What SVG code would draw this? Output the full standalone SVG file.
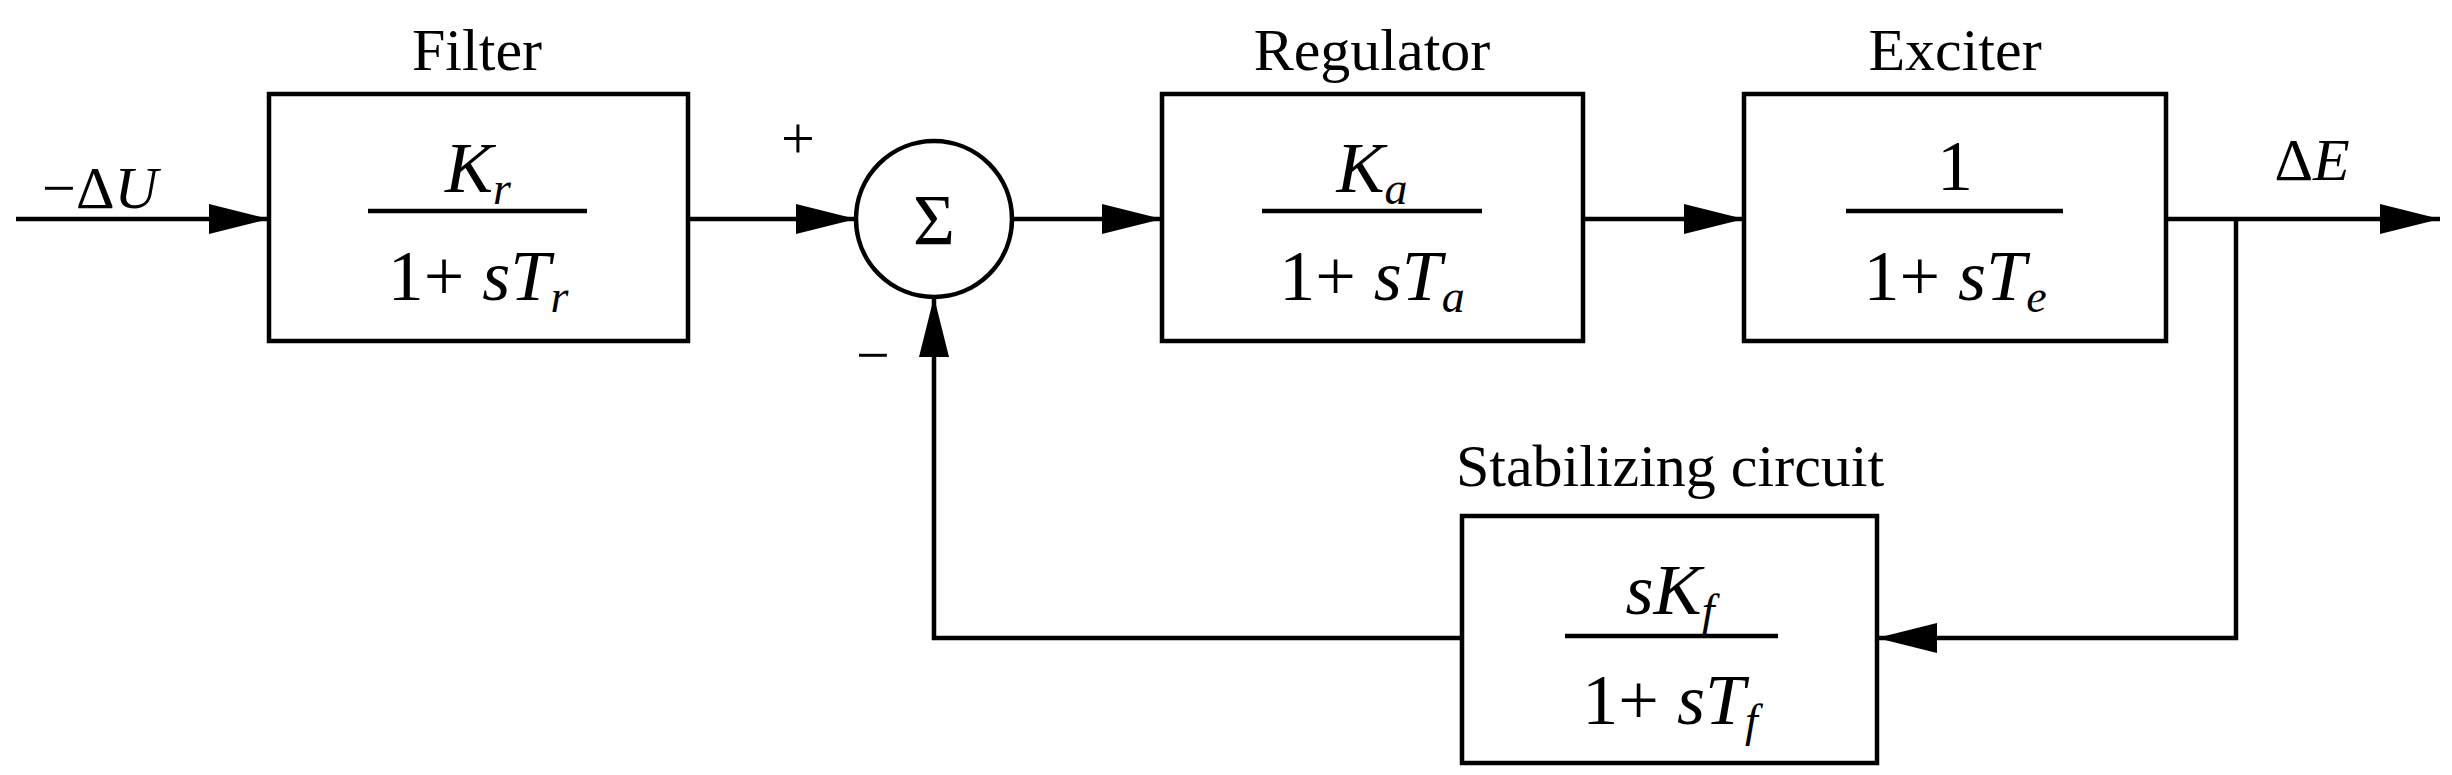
<svg xmlns="http://www.w3.org/2000/svg" width="2452" height="775" viewBox="0 0 2452 775">
<defs>
<marker id="ah" markerWidth="60" markerHeight="30" refX="60" refY="15" orient="auto" markerUnits="userSpaceOnUse"><path d="M0,0 L60,15 L0,30 Z" fill="#000"/></marker>
<style>
.b{fill:#fff;stroke:#000;stroke-width:4.5}
.l{fill:none;stroke:#000;stroke-width:4.5}
.t{font-family:"Liberation Serif",serif;font-size:60px;text-anchor:middle}
.m{font-family:"Liberation Serif",serif;font-size:72px;text-anchor:middle}
.i{font-style:italic}
.s{font-size:46px;font-style:italic}
</style>
</defs>
<g id="connectors">
<path class="l" d="M16,219 H269" marker-end="url(#ah)"/>
<path class="l" d="M688,219 H856" marker-end="url(#ah)"/>
<path class="l" d="M1012,219 H1162" marker-end="url(#ah)"/>
<path class="l" d="M1583,219 H1744" marker-end="url(#ah)"/>
<path class="l" d="M2166,219 H2440" marker-end="url(#ah)"/>
<path class="l" d="M2236,219 V638 H1877" marker-end="url(#ah)"/>
<path class="l" d="M1462,638 H934 V297" marker-end="url(#ah)"/>
</g>
<g id="filter">
<rect class="b" x="269" y="94" width="419" height="247"/>
<text class="t" x="477" y="70">Filter</text>
<text class="m" x="478" y="192"><tspan class="i">K</tspan><tspan class="s" dy="12">r</tspan></text>
<line class="l" x1="368" y1="211" x2="587" y2="211"/>
<text class="m" x="478" y="300">1+ <tspan class="i">sT</tspan><tspan class="s" dy="12">r</tspan></text>
</g>
<g id="sum">
<circle class="b" cx="934" cy="219" r="78"/>
<text class="m" x="934" y="244">Σ</text>
<text class="t" x="798" y="158">+</text>
<text class="t" x="873" y="375">−</text>
</g>
<g id="regulator">
<rect class="b" x="1162" y="94" width="421" height="247"/>
<text class="t" x="1372" y="70">Regulator</text>
<text class="m" x="1372" y="192"><tspan class="i">K</tspan><tspan class="s" dy="12">a</tspan></text>
<line class="l" x1="1262" y1="211" x2="1482" y2="211"/>
<text class="m" x="1372" y="300">1+ <tspan class="i">sT</tspan><tspan class="s" dy="12">a</tspan></text>
</g>
<g id="exciter">
<rect class="b" x="1744" y="94" width="422" height="247"/>
<text class="t" x="1955" y="70">Exciter</text>
<text class="m" x="1955" y="190">1</text>
<line class="l" x1="1846" y1="211" x2="2063" y2="211"/>
<text class="m" x="1955" y="300">1+ <tspan class="i">sT</tspan><tspan class="s" dy="12">e</tspan></text>
</g>
<g id="stabilizing">
<rect class="b" x="1462" y="516" width="415" height="247"/>
<text class="t" x="1670" y="486">Stabilizing circuit</text>
<text class="m" x="1670" y="614"><tspan class="i">sK</tspan><tspan class="s" dy="12">f</tspan></text>
<line class="l" x1="1565" y1="636" x2="1778" y2="636"/>
<text class="m" x="1670" y="724">1+ <tspan class="i">sT</tspan><tspan class="s" dy="12">f</tspan></text>
</g>
<g id="labels">
<text class="t" x="100" y="208">−Δ<tspan class="i">U</tspan></text>
<text class="t" x="2312" y="180">Δ<tspan class="i">E</tspan></text>
</g>
</svg>
